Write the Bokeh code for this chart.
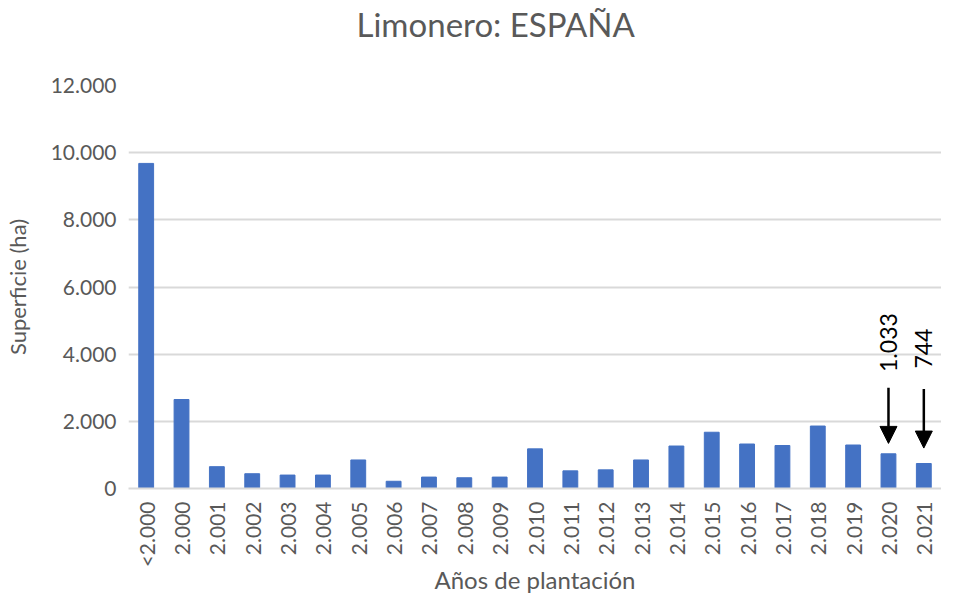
from math import pi
from bokeh.plotting import figure
from bokeh.models import ColumnDataSource, FixedTicker, Range1d, FactorRange, Arrow, NormalHead
from bokeh.core.properties import value
from bokeh.embed import file_html
from bokeh.resources import INLINE

categories = ["<2.000", "2.000", "2.001", "2.002", "2.003", "2.004", "2.005", "2.006",
              "2.007", "2.008", "2.009", "2.010", "2.011", "2.012", "2.013", "2.014",
              "2.015", "2.016", "2.017", "2.018", "2.019", "2.020", "2.021"]
superficie = [9680, 2650, 650, 440, 400, 400, 850, 215,
              340, 320, 340, 1180, 525, 555, 850, 1265,
              1675, 1325, 1280, 1860, 1295, 1033, 744]
y_ticks = [0, 2000, 4000, 6000, 8000, 10000, 12000]
y_tick_labels = ["0", "2.000", "4.000", "6.000", "8.000", "10.000", "12.000"]
note_categories = ["2.020", "2.021"]
note_labels = ["1.033", "744"]
title_text = "Limonero: ESPAÑA"

FONT = "Lato"
GREY = "#595959"

p = figure(width=941, height=597, x_range=FactorRange(*categories),
           y_range=Range1d(0, 12000), output_backend="svg", toolbar_location=None,
           title=title_text + "\n", min_border_left=0, min_border_right=0,
           min_border_top=0, min_border_bottom=0)

src = ColumnDataSource(dict(x=categories, top=superficie))
p.vbar(x="x", top="top", width=0.42, source=src, fill_color="#4472C4",
       line_color="#4472C4")

# annotations: arrows pointing down at the last two bars, with rotated value labels
note_vals = [superficie[categories.index(c)] for c in note_categories]
ann = ColumnDataSource(dict(
    x=note_categories,
    y0=[3000, 2960],
    y1=[note_vals[0] + 310, note_vals[1] + 460],
    ty=[3470, 3570],
    text=note_labels,
))
p.add_layout(Arrow(x_start="x", y_start="y0", x_end="x", y_end="y1", source=ann,
                   line_color="black", line_width=2.5,
                   end=NormalHead(size=17, fill_color="black", line_color="black")))
p.text(x="x", y="ty", text="text", source=ann, angle=pi / 2, text_align="left",
       text_baseline="middle", text_font=value(FONT), text_font_size="23px",
       text_color="black")

p.title.text_font = FONT
p.title.text_font_size = "33px"
p.title.text_font_style = "normal"
p.title.text_color = GREY
p.title.text_line_height = 0.91
p.title.align = "left"
p.title.offset = 228
p.title.vertical_align = "top"
p.title.standoff = 7

p.yaxis.ticker = FixedTicker(ticks=y_ticks)
p.yaxis.major_label_overrides = {t: l for t, l in zip(y_ticks, y_tick_labels)}
p.yaxis.axis_label = "Superficie (ha)"
p.xaxis.axis_label = "Años de plantación"
for ax in (p.xaxis, p.yaxis):
    ax.major_label_text_font = FONT
    ax.major_label_text_font_size = "21px"
    ax.major_label_text_color = GREY
    ax.axis_label_text_font = FONT
    ax.axis_label_text_font_size = "24px"
    ax.axis_label_text_font_style = "normal"
    ax.axis_label_text_color = GREY
    ax.major_tick_line_color = None
    ax.minor_tick_line_color = None
    ax.major_tick_out = 0
    ax.major_tick_in = 0
p.yaxis.axis_label_text_font_size = "22px"
p.yaxis.axis_line_color = None
p.yaxis.major_label_standoff = 12
p.yaxis.axis_label_standoff = 17
p.xaxis.axis_line_color = "#d9d9d9"
p.xaxis.axis_line_width = 2
p.xaxis.major_label_orientation = pi / 2
p.xaxis.major_label_standoff = 13
p.xaxis.axis_label_standoff = -5

p.xgrid.grid_line_color = None
p.ygrid.grid_line_color = "#d9d9d9"
p.ygrid.grid_line_width = 2
p.x_range.range_padding = 0.0
p.outline_line_color = None
p.background_fill_color = "white"
p.border_fill_color = "white"

open("out.html", "w").write(file_html(p, INLINE))
